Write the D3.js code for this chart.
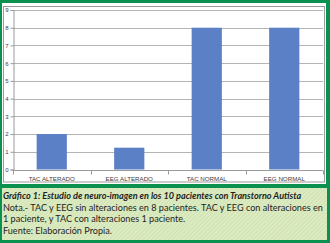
<!DOCTYPE html>
<html>
<head>
<meta charset="utf-8">
<script src="https://cdn.jsdelivr.net/npm/d3@7"></script>
<style>
  html, body { margin: 0; padding: 0; background: #fff; }
  svg { display: block; }
</style>
</head>
<body>
<svg id="chart" width="330" height="243"></svg>
<script>
// data
const categories = ["TAC ALTERADO", "EEG ALTERADO", "TAC NORMAL", "EEG NORMAL"];
const values = [2, 1.23, 8, 8];
const yTicks = [0, 1, 2, 3, 4, 5, 6, 7, 8, 9];
const captionLines = [
  "Gráfico 1: Estudio de neuro-imagen en los 10 pacientes con Transtorno Autista",
  "Nota.- TAC y EEG sin alteraciones en 8 pacientes. TAC y EEG con alteraciones en",
  "1 paciente, y  TAC con alteraciones 1 paciente.",
  "Fuente: Elaboración Propia."
];

const svg = d3.select("svg#chart");
const green = "#0a9150";

// caption hatch
const defs = svg.append("defs");
const hatch = defs.append("pattern")
    .attr("id", "hatch")
    .attr("width", 3).attr("height", 3)
    .attr("patternUnits", "userSpaceOnUse")
    .attr("patternTransform", "rotate(45)");
hatch.append("rect").attr("width", 3).attr("height", 3).attr("fill", "#dcebc2");
hatch.append("rect").attr("width", 1).attr("height", 3).attr("fill", "#cfe2b1");

// outer green frame
svg.append("rect").attr("x", 0).attr("y", 0).attr("width", 330).attr("height", 243).attr("fill", green);
svg.append("rect").attr("x", 2).attr("y", 3).attr("width", 324).attr("height", 181).attr("fill", "#fff");
svg.append("rect").attr("x", 2).attr("y", 188).attr("width", 325).attr("height", 52).attr("fill", "url(#hatch)");

// chart frame
svg.append("rect")
    .attr("x", 3.5).attr("y", 6.5).attr("width", 321).attr("height", 175.5)
    .attr("fill", "none").attr("stroke", "#9a9a9a");

const x = d3.scaleBand()
    .domain(categories)
    .range([13, 323])
    .paddingInner(0.61)
    .paddingOuter(0.305);
const y = d3.scaleLinear().domain([0, 9]).range([169.5, 10]);

// gridlines
svg.append("g")
  .selectAll("line")
  .data(yTicks.filter(d => d > 0))
  .enter().append("line")
    .attr("x1", 13).attr("x2", 323)
    .attr("y1", d => Math.round(y(d)) + 0.5)
    .attr("y2", d => Math.round(y(d)) + 0.5)
    .attr("stroke", "#b4b4b4");

// bars
svg.append("g")
  .selectAll("rect")
  .data(values)
  .enter().append("rect")
    .attr("x", (d, i) => x(categories[i]))
    .attr("width", x.bandwidth())
    .attr("y", d => y(d))
    .attr("height", d => y(0) - y(d))
    .attr("fill", "#5b80c6");

// y axis
const yAxis = svg.append("g")
    .attr("transform", "translate(13.5,0)")
    .call(d3.axisLeft(y).tickValues(yTicks).tickSize(3).tickPadding(2).tickFormat(d3.format("d")));
yAxis.select(".domain").attr("stroke", "#9a9a9a");
yAxis.selectAll(".tick line").attr("stroke", "#9a9a9a");
yAxis.selectAll("text")
    .attr("font-family", "Liberation Sans, Arial, sans-serif")
    .attr("font-size", 6)
    .attr("fill", "#404040");

// x axis
const xb = d3.scaleLinear().domain([0, categories.length]).range([13, 323]);
const xAxis = svg.append("g").attr("transform", "translate(0," + (Math.round(y(0)) + 0.5) + ")");
xAxis.append("line").attr("x1", 13).attr("x2", 323).attr("stroke", "#9a9a9a");
xAxis.selectAll("line.tk")
  .data(d3.range(categories.length + 1))
  .enter().append("line")
    .attr("class", "tk")
    .attr("x1", d => Math.round(xb(d)) + 0.5)
    .attr("x2", d => Math.round(xb(d)) + 0.5)
    .attr("y1", 0).attr("y2", 4)
    .attr("stroke", "#9a9a9a");
xAxis.selectAll("text")
  .data(categories)
  .enter().append("text")
    .attr("x", d => x(d) + x.bandwidth() / 2)
    .attr("y", 10)
    .attr("text-anchor", "middle")
    .attr("font-family", "Liberation Sans, Arial, sans-serif")
    .attr("font-size", 6.2)
    .attr("fill", "#404040")
    .text(d => d);

// caption: one horizontal squeeze for all lines, sized from the "Nota" line
const baselines = [199, 210.7, 222.3, 234];
const cap = svg.append("g")
  .selectAll("g")
  .data(captionLines)
  .enter().append("g")
    .attr("transform", (d, i) => "translate(3," + baselines[i] + ")");
const capText = cap.append("text")
    .attr("font-family", "Lato, sans-serif")
    .attr("font-size", 9.6)
    .attr("font-style", (d, i) => i === 0 ? "italic" : "normal")
    .attr("font-weight", (d, i) => i === 0 ? 700 : 400)
    .attr("fill", "#1e1e1e")
    .text(d => d);
const notaWidth = capText.nodes()[1].getComputedTextLength();
const k = 320 / notaWidth;
capText.each(function(d, i) {
  const w = this.getComputedTextLength();
  const s = Math.min(k, 322 / w);
  d3.select(this).attr("transform", "scale(" + s + ",1)");
});
</script>
</body>
</html>
